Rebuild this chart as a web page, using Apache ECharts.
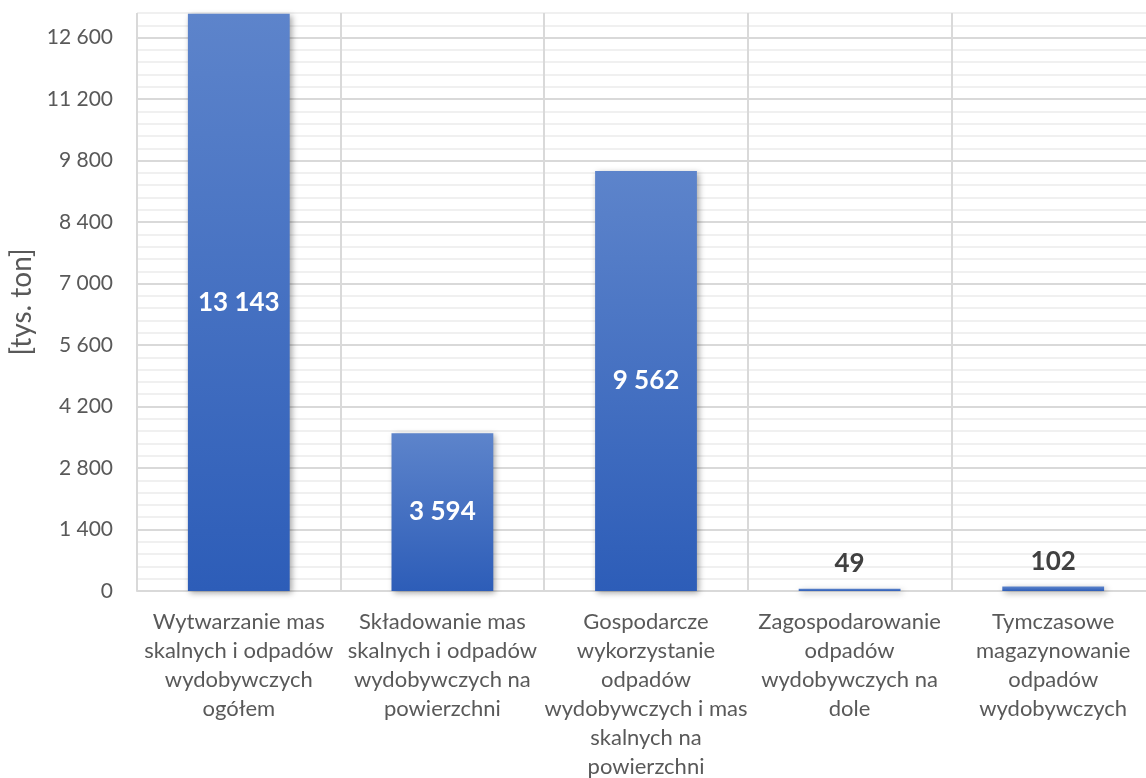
<!DOCTYPE html>
<html>
<head>
<meta charset="utf-8">
<script src="https://cdn.jsdelivr.net/npm/echarts@6/dist/echarts.min.js"></script>
<style>
  html, body { margin: 0; padding: 0; background: #fff; }
  #chart { width: 1146px; height: 778px; }
</style>
</head>
<body>
<div id="chart"></div>
<script>
// Data
const categories = [
  'Wytwarzanie mas\nskalnych i odpadów\nwydobywczych\nogółem',
  'Składowanie mas\nskalnych i odpadów\nwydobywczych na\npowierzchni',
  'Gospodarcze\nwykorzystanie\nodpadów\nwydobywczych i mas\nskalnych na\npowierzchni',
  'Zagospodarowanie\nodpadów\nwydobywczych na\ndole',
  'Tymczasowe\nmagazynowanie\nodpadów\nwydobywczych'
]
const values = [13143, 3594, 9562, 49, 102]
// bars too short to hold their label get it above
const labelOutside = [false, false, false, true, true]

const FONT = 'Lato'
const fmt = (v) => String(v).replace(/\B(?=(\d{3})+(?!\d))/g, ' ')

const chart = echarts.init(document.getElementById('chart'))

chart.setOption({
  backgroundColor: '#fff',
  animation: false,
  grid: { left: 137, top: 13, right: -9, bottom: 187, containLabel: false, outerBoundsMode: 'none' },
  xAxis: {
    type: 'category',
    data: categories,
    axisLine: { lineStyle: { color: '#d9d9d9', width: 2 } },
    axisTick: { show: false },
    splitLine: { show: true, lineStyle: { color: '#d9d9d9', width: 2 } },
    axisLabel: {
      interval: 0,
      margin: 16,
      color: '#595959',
      fontFamily: FONT,
      fontSize: 22,
      lineHeight: 29,
      align: 'center'
    }
  },
  yAxis: {
    type: 'value',
    min: 0,
    max: 13160,
    interval: 280,
    name: '[tys. ton]',
    nameLocation: 'middle',
    nameRotate: 90,
    nameGap: 98,
    nameTextStyle: { color: '#595959', fontFamily: FONT, fontSize: 28 },
    axisLine: { show: false },
    axisTick: { show: false },
    axisLabel: {
      margin: 24,
      color: '#595959',
      fontFamily: FONT,
      fontSize: 21,
      formatter: (v) => (v % 1400 === 0 ? fmt(v) : '')
    },
    splitLine: {
      show: true,
      lineStyle: {
        width: 2,
        color: ['#d9d9d9', '#f0f0f0', '#f0f0f0', '#f0f0f0', '#f0f0f0']
      }
    }
  },
  series: [{
    type: 'bar',
    barWidth: '50%',
    data: values.map((v, i) => ({
      value: v,
      label: labelOutside[i]
        ? { position: 'top', distance: 12, color: '#404040' }
        : { position: 'inside', color: '#ffffff' }
    })),
    itemStyle: {
      color: new echarts.graphic.LinearGradient(0, 0, 0, 1, [
        { offset: 0, color: '#5d84cb' },
        { offset: 1, color: '#2d5db8' }
      ]),
      shadowColor: 'rgba(0,0,0,0.35)',
      shadowBlur: 6,
      shadowOffsetX: 2,
      shadowOffsetY: 2
    },
    label: {
      show: true,
      fontFamily: FONT,
      fontSize: 26,
      fontWeight: 'bold',
      formatter: (p) => fmt(p.value)
    }
  }]
})
</script>
</body>
</html>
